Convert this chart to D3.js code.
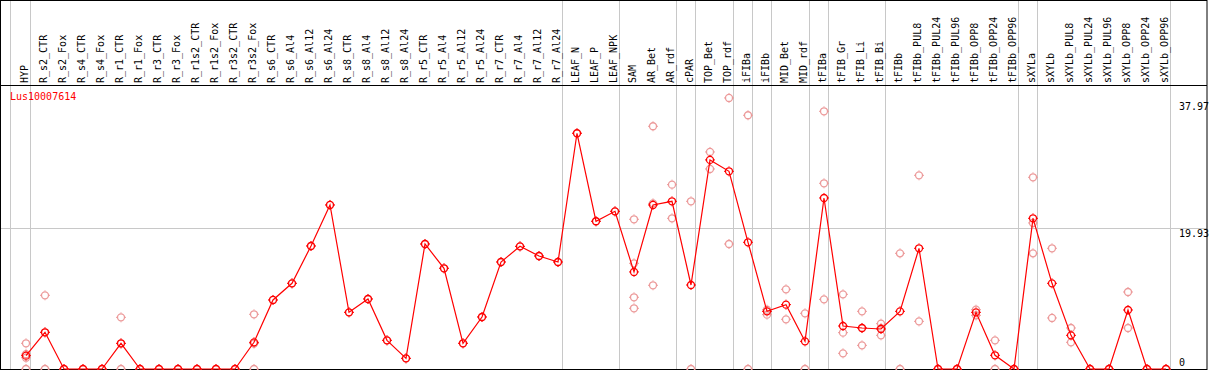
<!DOCTYPE html>
<html>
<head>
<meta charset="utf-8">
<script src="https://cdn.jsdelivr.net/npm/d3@7"></script>
<style>
  body { margin: 0; background: #fff; }
  svg text { font-family: "DejaVu Sans Mono", monospace; font-size: 10px; }
</style>
</head>
<body>
<div id="chart"></div>
<script>
// sample names, in column order
const samples = ["HYP", "R_s2_CTR", "R_s2_Fox", "R_s4_CTR", "R_s4_Fox", "R_r1_CTR", "R_r1_Fox",
  "R_r3_CTR", "R_r3_Fox", "R_r1s2_CTR", "R_r1s2_Fox", "R_r3s2_CTR", "R_r3s2_Fox",
  "R_s6_CTR", "R_s6_Al4", "R_s6_Al12", "R_s6_Al24", "R_s8_CTR", "R_s8_Al4", "R_s8_Al12", "R_s8_Al24",
  "R_r5_CTR", "R_r5_Al4", "R_r5_Al12", "R_r5_Al24", "R_r7_CTR", "R_r7_Al4", "R_r7_Al12", "R_r7_Al24",
  "LEAF_N", "LEAF_P", "LEAF_NPK", "SAM", "AR_Bet", "AR_rdf", "cPAR", "TOP_Bet", "TOP_rdf",
  "iFIBa", "iFIBb", "MID_Bet", "MID_rdf", "tFIBa", "tFIB_Gr", "tFIB_Li", "tFIB_Bi",
  "tFIBb", "tFIBb_PUL8", "tFIBb_PUL24", "tFIBb_PUL96", "tFIBb_OPP8", "tFIBb_OPP24", "tFIBb_OPP96",
  "sXYLa", "sXYLb", "sXYLb_PUL8", "sXYLb_PUL24", "sXYLb_PUL96", "sXYLb_OPP8", "sXYLb_OPP24", "sXYLb_OPP96"];

// mean expression per sample
const means = [1.89, 5.2, 0, 0, 0, 3.64, 0, 0, 0, 0, 0, 0, 3.78,
  9.78, 12.14, 17.43, 23.24, 8.03, 9.92, 4.06, 1.51,
  17.71, 14.27, 3.64, 7.37, 15.16, 17.38, 16.01, 15.16,
  33.4, 20.93, 22.34, 13.75, 23.24, 23.76, 11.9, 29.62, 28.01,
  17.95, 8.17, 9.12, 3.92, 24.23, 6.09, 5.81, 5.67,
  8.17, 17.1, 0, 0, 8.03, 1.94, 0,
  21.35, 12.14, 4.77, 0, 0, 8.36, 0, 0];

// individual replicates per sample
const replicates = [[3.64, 2.1, 1.6, 0], [10.44, 5.2, 0], [0], [0], [0], [7.32, 3.6, 0], [0], [0], [0], [0], [0], [0], [7.75, 3.6, 0],
  [9.78], [12.14], [17.43], [23.24], [8.03], [9.92], [4.06], [1.51],
  [17.71], [14.27], [3.64], [7.37], [15.16], [17.38], [16.01], [15.16],
  [33.4], [20.93], [22.34], [21.21, 14.97, 10.16, 8.6], [34.39, 23.47, 11.86], [26.12, 21.35], [23.76, 0], [30.75, 28.34], [38.4, 17.71],
  [35.95, 0], [8.4, 7.7], [11.29, 7.04], [7.89, 0], [36.51, 26.31, 9.87], [10.58, 5.15, 2.22], [8.17, 5.8, 3.35], [6.42, 5.8, 4.77],
  [16.39, 0], [27.44, 6.75], [0], [0], [8.4, 7.6], [4.06, 0], [0],
  [27.16, 20.69, 16.39], [17.1, 7.23], [5.81, 3.78], [0], [0], [10.91, 5.81], [0], [0]];

// group separators come after these samples
const groupEnds = ["HYP", "R_r7_Al24", "LEAF_NPK", "AR_rdf", "cPAR", "TOP_rdf", "iFIBa", "iFIBb",
  "MID_rdf", "tFIBa", "tFIB_Bi", "tFIBb_OPP96", "sXYLa", "sXYLb_OPP96"];

const yTicks = [37.97, 19.93, 0];
const geneName = "Lus10007614";

const width = 1209, height = 370;
const headerBottom = 85.5, plotBottom = 369;

const svg = d3.select("#chart").append("svg")
  .attr("width", width)
  .attr("height", height);

const x = d3.scalePoint().domain(samples).range([26, 1166]);
const step = x.step();
const y = d3.scaleLinear().domain([0, 37.97]).range([plotBottom, 101]);

// horizontal mid grid line
svg.append("line")
  .attr("x1", 1).attr("x2", 1207)
  .attr("y1", Math.round(y(19.93)) + 0.5).attr("y2", Math.round(y(19.93)) + 0.5)
  .attr("stroke", "#c8c8c8");

// vertical separators (one before the first column too)
const sepX = [x(samples[0]) - step + 3.5].concat(groupEnds.map(s => x(s) + 4.5));
svg.append("g").selectAll("line")
  .data(sepX)
  .join("line")
  .attr("x1", d => Math.floor(d) + 0.5).attr("x2", d => Math.floor(d) + 0.5)
  .attr("y1", 0).attr("y2", plotBottom)
  .attr("stroke", "#c8c8c8");

// borders
svg.append("rect")
  .attr("x", 0.5).attr("y", 0.5)
  .attr("width", 1206.5).attr("height", plotBottom)
  .attr("fill", "none").attr("stroke", "#000");
svg.append("line")
  .attr("x1", 0).attr("x2", 1207)
  .attr("y1", headerBottom).attr("y2", headerBottom)
  .attr("stroke", "#000");

// rotated sample labels
svg.append("g").selectAll("text")
  .data(samples)
  .join("text")
  .attr("transform", d => `translate(${x(d) + 2},83) rotate(-90)`)
  .attr("fill", "#000")
  .text(d => d);

// y labels on the right
svg.append("g").selectAll("text")
  .data(yTicks)
  .join("text")
  .attr("x", 1179)
  .attr("y", d => d === 0 ? plotBottom - 3 : y(d) + 9)
  .attr("fill", "#000")
  .text(d => d);

svg.append("text")
  .attr("x", 10).attr("y", 100)
  .attr("fill", "red")
  .text(geneName);

// marker: small circle with little ticks
function marker(g, color) {
  g.append("circle").attr("r", 3.5).attr("fill", "none").attr("stroke", color).attr("stroke-width", 1.3);
  g.append("path")
    .attr("d", "M0,-5V-4M0,4V5M-5,0H-4M4,0H5")
    .attr("stroke", color).attr("stroke-width", 1);
}

// replicate points
const repData = [];
samples.forEach((s, i) => replicates[i].forEach(v => repData.push({ s, v })));
svg.append("g").selectAll("g")
  .data(repData)
  .join("g")
  .attr("transform", d => `translate(${x(d.s)},${y(d.v)})`)
  .each(function () { marker(d3.select(this), "#ec9a9a"); });

// mean line
const line = d3.line()
  .x((d, i) => x(samples[i]))
  .y(d => y(d));
svg.append("path")
  .datum(means)
  .attr("d", line)
  .attr("fill", "none")
  .attr("stroke", "red")
  .attr("stroke-width", 1.2);

svg.append("g").selectAll("g")
  .data(means)
  .join("g")
  .attr("transform", (d, i) => `translate(${x(samples[i])},${y(d)})`)
  .each(function () { marker(d3.select(this), "red"); });
</script>
</body>
</html>
